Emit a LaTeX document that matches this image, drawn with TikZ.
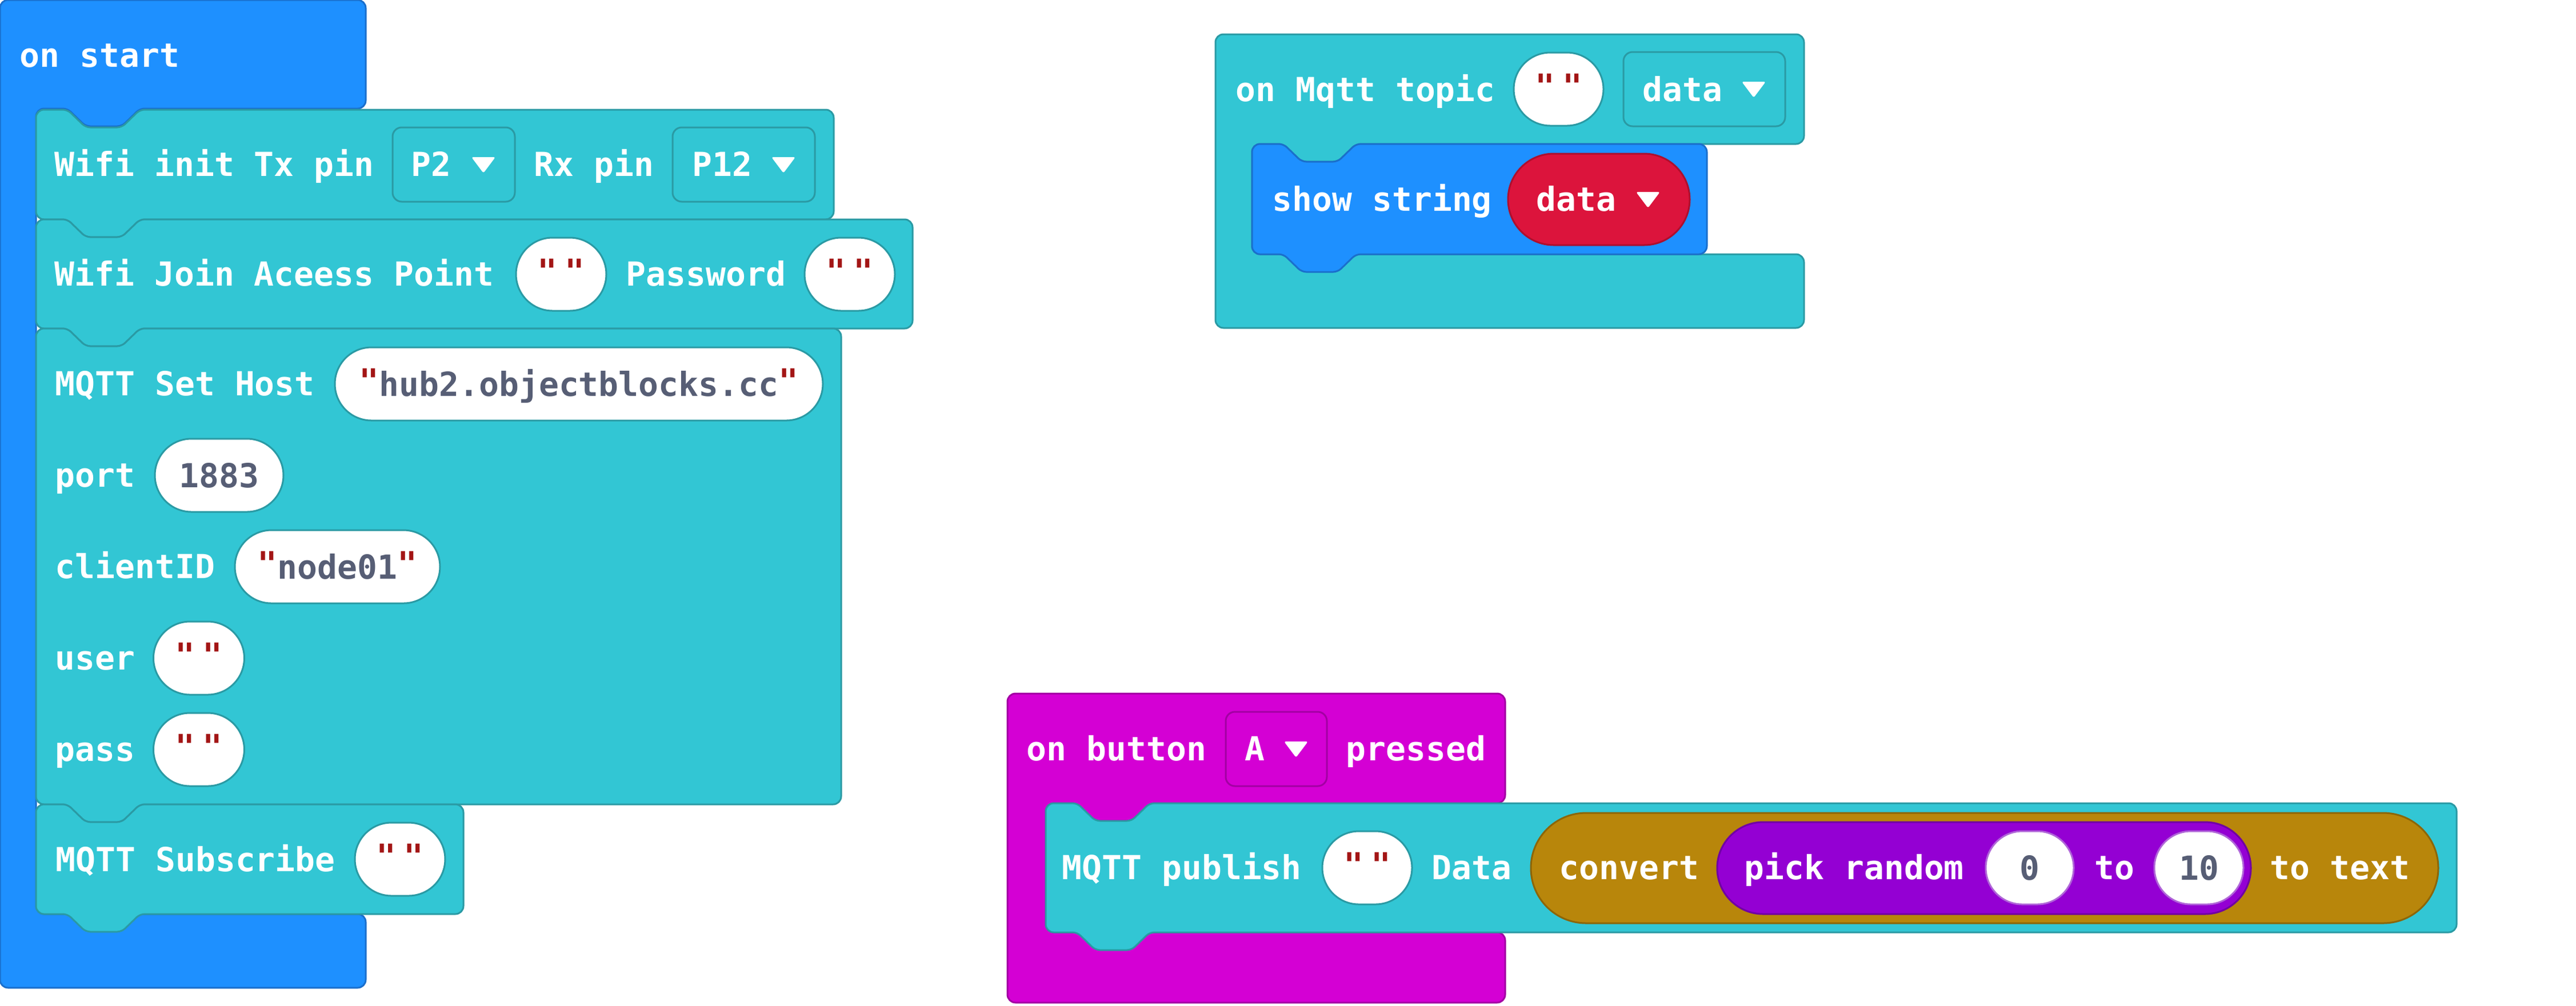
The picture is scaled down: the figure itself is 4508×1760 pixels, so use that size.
\documentclass[tikz,border=0pt]{standalone}
\usepackage{fontspec}
\usetikzlibrary{shapes.misc,positioning}
\newfontfamily\blockfont{DejaVu Sans Mono}
\newcommand{\blkfnt}{\blockfont\bfseries\fontsize{14.5pt}{17pt}\selectfont}

\definecolor{mbblue}{HTML}{1E90FF}
\definecolor{mbblueline}{HTML}{1A6FCC}
\definecolor{mbteal}{HTML}{32C6D4}
\definecolor{mbtealline}{HTML}{2A9AA4}
\definecolor{mbmag}{HTML}{D400D4}
\definecolor{mbmagline}{HTML}{A300A3}
\definecolor{mbbrown}{HTML}{B8860B}
\definecolor{mbbrownline}{HTML}{8C6608}
\definecolor{mbpurple}{HTML}{9400D3}
\definecolor{mbpurpleline}{HTML}{7000A3}
\definecolor{mbnumline}{HTML}{B066D8}
\definecolor{mbred}{HTML}{DC143C}
\definecolor{mbredline}{HTML}{AE0F2E}
\definecolor{valgrey}{HTML}{575E75}
\definecolor{quotered}{HTML}{A31515}

\newcommand{\qmark}{\raisebox{1.5pt}{\textcolor{quotered}{"}}}
\newcommand{\emptystr}{\makebox[0pt]{\qmark}\hspace{12pt}\makebox[0pt]{\qmark}}

\tikzset{blk/.style={line width=0.75pt, line join=round},
        bluestmt/.style={blk, fill=mbblue, draw=mbblueline},
        tealstmt/.style={blk, fill=mbteal, draw=mbtealline},
        magstmt/.style={blk, fill=mbmag, draw=mbmagline},
        lbl/.style={anchor=base west, inner sep=0pt, text=white, font=\blkfnt},
        pill/.style={rounded rectangle, line width=0.75pt, inner sep=0pt,
                     minimum height=32pt, text height=10.5pt, text depth=0pt, font=\blkfnt},
        strval/.style={pill, fill=white, draw=mbtealline, text=valgrey},
        numval/.style={pill, fill=white, draw=mbnumline, text=valgrey},
        varval/.style={pill, fill=mbred, draw=mbredline},
        convval/.style={pill, fill=mbbrown, draw=mbbrownline},
        randval/.style={pill, fill=mbpurple, draw=mbpurpleline},
        dropbox/.style={rectangle, rounded corners=4pt, line width=0.75pt,
                        inner sep=0pt, minimum height=32.5pt},
        tealdrop/.style={dropbox, fill=mbteal, draw=mbtealline},
        magdrop/.style={dropbox, fill=mbmag, draw=mbmagline},
        }

% style, x, y, width, header height, arm width, inner height, foot height
\newcommand{\hatblock}[8]{%
  \draw[#1] (#2,#3+#5/2) [rounded corners=3.5pt] -- (#2,#3) -- (#2+#4,#3) -- (#2+#4,#3+#5)
    [rounded corners=2pt] -- (#2+#6+182,#3+#5) -- (#2+#6+150,#3+#5+31) -- (#2+#6+87,#3+#5+31) -- (#2+#6+55,#3+#5)
    [rounded corners=3.5pt] -- (#2+#6,#3+#5) -- (#2+#6,#3+#5+#7) -- (#2+#4,#3+#5+#7)
    -- (#2+#4,#3+#5+#7+#8) -- (#2,#3+#5+#7+#8) -- cycle;}
% style, x, y, width, height
\newcommand{\stmtblock}[5]{%
  \draw[#1] (#2,#3+#5/2) [rounded corners=3.5pt] -- (#2,#3) [rounded corners=2pt] -- (#2+55,#3)
    -- (#2+87,#3+31) -- (#2+150,#3+31) -- (#2+182,#3) [rounded corners=3.5pt] -- (#2+#4,#3)
    -- (#2+#4,#3+#5) [rounded corners=2pt] -- (#2+182,#3+#5) -- (#2+150,#3+#5+31)
    -- (#2+87,#3+#5+31) -- (#2+55,#3+#5) [rounded corners=3.5pt] -- (#2,#3+#5) -- cycle;}
\newcommand{\ddtri}[2]{\fill[white, rounded corners=0.8pt] (#1-21,#2-13) -- (#1+21,#2-13) -- (#1,#2+15) -- cycle;}

\begin{document}
\begin{tikzpicture}[x=0.25pt, y=-0.25pt]
    \useasboundingbox (0,0) rectangle (4508,1760);

    % on start
    \hatblock{bluestmt}{0}{0}{640}{190}{63}{1410}{129}
    \node[lbl] (onstart) at (34,117) {on start};

    \stmtblock{tealstmt}{63}{192}{1396}{192}
    \node[lbl] (wifiinit) at (95,308) {Wifi init Tx pin};
    \node[tealdrop, minimum width=53.5pt] (txpin) at (794,288) {};
    \node[lbl] (txval) at (719,308) {P2};
    \ddtri{846}{288}
    \node[lbl] (rxlbl) at (934,308) {Rx pin};
    \node[tealdrop, minimum width=62.25pt] (rxpin) at (1301.5,288) {};
    \node[lbl] (rxval) at (1211,308) {P12};
    \ddtri{1371}{288}

    \stmtblock{tealstmt}{63}{384}{1534}{191}
    \node[lbl] (joinap) at (95,500) {Wifi Join Aceess Point};
    \node[strval, minimum width=39.5pt] (apname) at (982,480) {\emptystr};
    \node[lbl] (pwlbl) at (1095,500) {Password};
    \node[strval, minimum width=39.5pt] (appass) at (1487,480) {\emptystr};

    \stmtblock{tealstmt}{63}{575}{1409}{833}
    \node[lbl] (sethost) at (96,692) {MQTT Set Host};
    \node[strval, minimum width=213.5pt] (host) at (1013,672) {\qmark hub2.objectblocks.cc\qmark};
    \node[lbl] (portlbl) at (96,852) {port};
    \node[strval, minimum width=56.25pt] (port) at (383.5,832) {1883};
    \node[lbl] (cidlbl) at (96,1012) {clientID};
    \node[strval, minimum width=89.75pt] (cid) at (590.5,992) {\qmark node01\qmark};
    \node[lbl] (userlbl) at (96,1172) {user};
    \node[strval, minimum width=39.75pt] (user) at (348,1152) {\emptystr};
    \node[lbl] (passlbl) at (96,1332) {pass};
    \node[strval, minimum width=39.75pt] (pass) at (348,1312) {\emptystr};

    \stmtblock{tealstmt}{63}{1408}{748}{192}
    \node[lbl] (sublbl) at (97,1525) {MQTT Subscribe};
    \node[strval, minimum width=39.5pt] (subtopic) at (700,1504) {\emptystr};

    % on Mqtt topic
    \hatblock{tealstmt}{2127}{60}{1030}{192}{64}{193}{129}
    \node[lbl] (ontopic) at (2162,177) {on Mqtt topic};
    \node[strval, minimum width=39.25pt] (topic) at (2727.5,156) {\emptystr};
    \node[tealdrop, minimum width=70.75pt] (topicvar) at (2982.5,156) {};
    \node[lbl] (topicval) at (2874,177) {data};
    \ddtri{3069}{156}

    \stmtblock{bluestmt}{2191}{252}{796}{193}
    \node[lbl] (showstr) at (2226,369) {show string};
    \node[varval, minimum width=79.5pt, minimum height=40pt] (datavar) at (2798,349) {};
    \node[lbl] (dataval) at (2688,369) {data};
    \ddtri{2884}{349}

    % on button A pressed
    \hatblock{magstmt}{1763}{1214}{871}{192}{67}{226}{123}
    \node[lbl] (onbtn) at (1796,1331) {on button};
    \node[magdrop, minimum width=44.25pt] (btn) at (2233.5,1311) {};
    \node[lbl] (btnval) at (2178,1331) {A};
    \ddtri{2268}{1311}
    \node[lbl] (pressed) at (2355,1331) {pressed};

    \stmtblock{tealstmt}{1830}{1406}{2469}{226}
    \node[lbl] (publbl) at (1858,1539) {MQTT publish};
    \node[strval, minimum width=39.25pt] (pubtopic) at (2392.5,1519) {\emptystr};
    \node[lbl] (datalbl) at (2505,1539) {Data};
    \node[convval, minimum width=397pt, minimum height=48.25pt] (conv) at (3473,1519.5) {};
    \node[lbl] (convlbl) at (2728,1539) {convert};
    \node[randval, minimum width=233.5pt, minimum height=40.25pt] (rand) at (3472,1519.5) {};
    \node[lbl] (randlbl) at (3052,1539) {pick random};
    \node[numval, minimum width=38.5pt] (lo) at (3552,1519) {0};
    \node[lbl] (tolbl) at (3665,1539) {to};
    \node[numval, minimum width=39pt] (hi) at (3848,1519) {10};
    \node[lbl] (totext) at (3972,1539) {to text};

\end{tikzpicture}
\end{document}
